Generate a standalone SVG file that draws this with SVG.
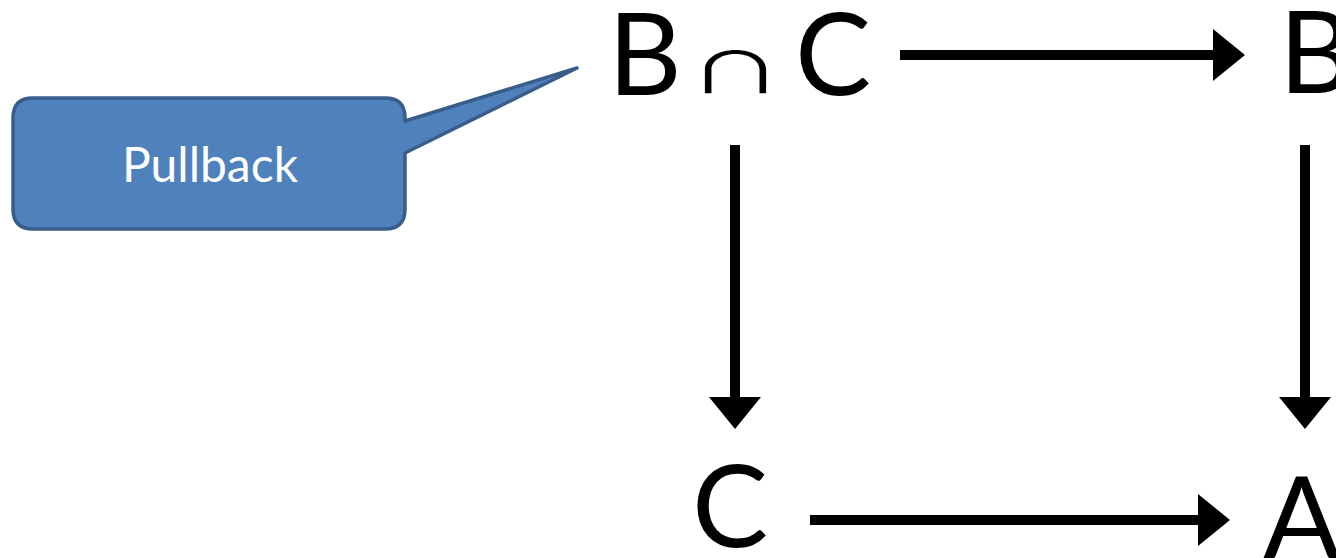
<svg xmlns="http://www.w3.org/2000/svg" width="1336" height="558" viewBox="0 0 1336 558">
  <style>
    .obj { font-family: Lato, "Open Sans", "Liberation Sans", sans-serif; font-size: 114px; fill: #000; }
    .cap { font-family: "Noto Sans CJK SC", "DejaVu Sans", sans-serif; font-size: 95px; fill: #000; }
    .edge { stroke: #000; stroke-width: 10; fill: none; marker-end: url(#head); }
    .label { font-family: Lato, "Open Sans", "Liberation Sans", sans-serif; font-size: 48px; fill: #fff; }
  </style>
  <defs>
    <marker id="head" markerUnits="userSpaceOnUse" viewBox="0 0 32 52" refX="0" refY="26" markerWidth="32" markerHeight="52" orient="auto">
      <path d="M0,0 L32,26 L0,52 z" fill="#000"/>
    </marker>
  </defs>
  <rect width="1336" height="558" fill="#fff"/>

  <!-- callout -->
  <g id="callout">
    <path d="M33,98 H385 Q405,98 405,118 L405,121 L577,68 L405,153 V209 Q405,229 385,229 H33 Q13,229 13,209 V118 Q13,98 33,98 Z" fill="#4F81BD" stroke="#385D8A" stroke-width="3.5" stroke-linejoin="round"/>
    <text class="label" x="210" y="182" text-anchor="middle">Pullback</text>
  </g>

  <!-- objects -->
  <g id="node-BcapC">
    <text class="obj" x="608" y="95">B</text>
    <text class="cap" transform="translate(688,93) scale(1,0.6)">∩</text>
    <text class="obj" x="795" y="95">C</text>
  </g>
  <g id="node-B">
    <text class="obj" x="1279" y="93">B</text>
  </g>
  <g id="node-C">
    <text class="obj" x="692" y="547">C</text>
  </g>
  <g id="node-A">
    <text class="obj" x="1263" y="558">A</text>
  </g>

  <!-- morphisms -->
  <g id="connectors">
    <line class="edge" x1="900" y1="55" x2="1213" y2="55"/>
    <line class="edge" x1="735" y1="145" x2="735" y2="397"/>
    <line class="edge" x1="1305" y1="145" x2="1305" y2="397"/>
    <line class="edge" x1="810" y1="520" x2="1198" y2="520"/>
  </g>
</svg>
